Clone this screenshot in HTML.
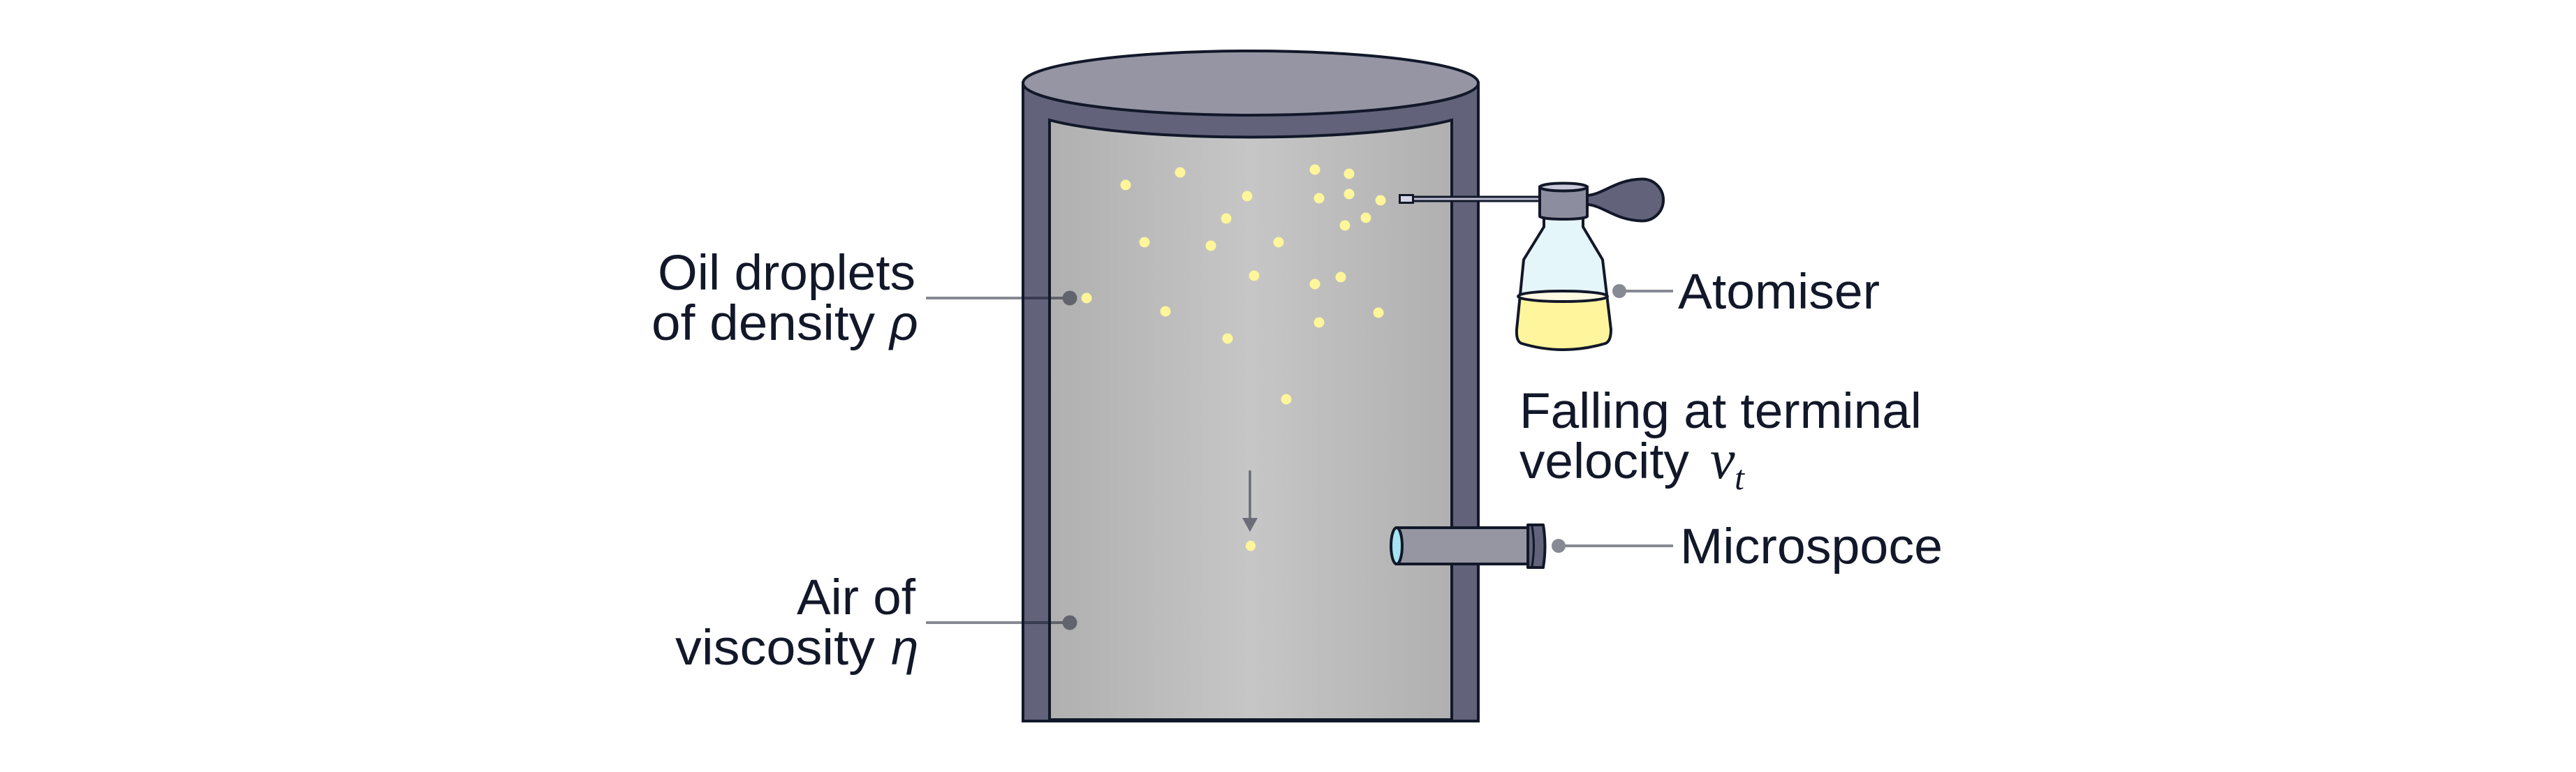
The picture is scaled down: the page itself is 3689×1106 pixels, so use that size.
<!DOCTYPE html>
<html><head><meta charset="utf-8">
<style>
html,body{margin:0;padding:0;background:#fff;}
svg{display:block;}
.t{font-family:"Liberation Sans",sans-serif;fill:#121829;font-size:71px;}
.it{font-family:"Liberation Sans",sans-serif;font-style:italic;fill:#121829;font-size:71px;}
.m{font-family:"Liberation Serif",serif;font-style:italic;fill:#121829;}
</style></head><body>
<svg width="3689" height="1106" viewBox="0 0 3689 1106" xmlns="http://www.w3.org/2000/svg">
<defs>
<linearGradient id="g" x1="1503" y1="0" x2="2079" y2="0" gradientUnits="userSpaceOnUse">
<stop offset="0" stop-color="#b0b0b0"/>
<stop offset="0.5" stop-color="#c6c6c6"/>
<stop offset="1" stop-color="#b0b0b0"/>
</linearGradient>
<clipPath id="liq"><rect x="2100" y="424" width="300" height="120"/></clipPath>
</defs>
<rect width="3689" height="1106" fill="#fff"/>

<!-- cylinder -->
<path d="M1465,119 V1033 H2117 V119 Z" fill="#62627a" stroke="#121829" stroke-width="4"/>
<path d="M1503,172 A326,46 0 0 0 2079,172 V1031 H1503 Z" fill="url(#g)" stroke="#121829" stroke-width="4"/>
<ellipse cx="1791" cy="119" rx="326" ry="46" fill="#9595a3" stroke="#121829" stroke-width="4"/>

<!-- droplets -->
<g fill="#fff59a">
<circle cx="1612" cy="265" r="7.5"/>
<circle cx="1690" cy="247" r="7.5"/>
<circle cx="1786" cy="281" r="7.5"/>
<circle cx="1756" cy="313" r="7.5"/>
<circle cx="1639" cy="347" r="7.5"/>
<circle cx="1734" cy="352" r="7.5"/>
<circle cx="1831" cy="347" r="7.5"/>
<circle cx="1883" cy="243" r="7.5"/>
<circle cx="1932" cy="249" r="7.5"/>
<circle cx="1889" cy="284" r="7.5"/>
<circle cx="1932" cy="278" r="7.5"/>
<circle cx="1977" cy="287" r="7.5"/>
<circle cx="1956" cy="312" r="7.5"/>
<circle cx="1926" cy="323" r="7.5"/>
<circle cx="1796" cy="395" r="7.5"/>
<circle cx="1883" cy="407" r="7.5"/>
<circle cx="1920" cy="397" r="7.5"/>
<circle cx="1556" cy="427" r="7.5"/>
<circle cx="1669" cy="446" r="7.5"/>
<circle cx="1974" cy="448" r="7.5"/>
<circle cx="1889" cy="462" r="7.5"/>
<circle cx="1758" cy="485" r="7.5"/>
<circle cx="1842" cy="572" r="7.5"/>
<ellipse cx="1791" cy="782" rx="7" ry="7.5"/>
</g>

<!-- falling arrow -->
<line x1="1790" y1="674" x2="1790" y2="746" stroke="#6b6d78" stroke-width="3.5"/>
<polygon points="1779,742 1801,742 1790,762" fill="#6b6d78"/>

<!-- nozzle rod -->
<rect x="2022" y="282" width="186" height="6" fill="#c0c0d4" stroke="#121829" stroke-width="3"/>
<rect x="2004.5" y="279.5" width="19" height="11" fill="#d5d5e5" stroke="#121829" stroke-width="3"/>

<!-- bottle -->
<path id="btl" d="M2211,312 V325 L2182,372 L2172,472 Q2171,489 2179,492 Q2238,510 2299,492 Q2307,489 2307,472 L2295,372 L2267,325 V312 Z" fill="#e5f6fb"/>
<path d="M2211,312 V325 L2182,372 L2172,472 Q2171,489 2179,492 Q2238,510 2299,492 Q2307,489 2307,472 L2295,372 L2267,325 V312 Z" fill="#fff59d" clip-path="url(#liq)"/>
<path d="M2211,312 V325 L2182,372 L2172,472 Q2171,489 2179,492 Q2238,510 2299,492 Q2307,489 2307,472 L2295,372 L2267,325 V312 Z" fill="none" stroke="#121829" stroke-width="4" stroke-linejoin="round"/>
<ellipse cx="2238" cy="424.5" rx="64" ry="7.5" fill="#fffbe3" stroke="#121829" stroke-width="4"/>

<!-- bulb -->
<path d="M2271,280 C2295,280 2312,257 2352,256.5 A30,30 0 1 1 2352,316.5 C2312,316 2295,293 2271,293 Z" fill="#62627a" stroke="#121829" stroke-width="4" stroke-linejoin="round"/>

<!-- cap -->
<path d="M2205,268 V310 A34,4 0 0 0 2273,310 V268 Z" fill="#8d8da0" stroke="#121829" stroke-width="4"/>
<ellipse cx="2239" cy="268" rx="34" ry="5.5" fill="#c8c8da" stroke="#121829" stroke-width="4"/>

<!-- microscope -->
<rect x="2000" y="756" width="192" height="52" fill="#9696a3" stroke="#121829" stroke-width="4"/>
<ellipse cx="2000" cy="782" rx="8" ry="26" fill="#a6e3f2" stroke="#121829" stroke-width="4"/>
<path d="M2188,752 H2210 Q2215,782 2210,813 H2188 Z" fill="#62627a" stroke="#121829" stroke-width="4" stroke-linejoin="round"/>
<path d="M2194,754 Q2199,782 2194,811" fill="none" stroke="#121829" stroke-width="3"/>

<!-- pointers -->
<g opacity="0.5" fill="#121829" stroke="#121829">
<line x1="1326" y1="427" x2="1532" y2="427" stroke-width="4"/>
<circle cx="1532" cy="427" r="10.5" stroke="none"/>
</g>
<g opacity="0.5" fill="#121829" stroke="#121829">
<line x1="1326" y1="892" x2="1532" y2="892" stroke-width="4"/>
<circle cx="1532" cy="892" r="10.5" stroke="none"/>
</g>
<g opacity="0.5" fill="#121829" stroke="#121829">
<line x1="2319" y1="417" x2="2396" y2="417" stroke-width="4"/>
<circle cx="2319" cy="417" r="10" stroke="none"/>
</g>
<g opacity="0.5" fill="#121829" stroke="#121829">
<line x1="2232" y1="782" x2="2396" y2="782" stroke-width="4"/>
<circle cx="2232" cy="782" r="10" stroke="none"/>
</g>

<!-- labels -->
<text class="t" x="942" y="415" textLength="369" lengthAdjust="spacingAndGlyphs">Oil droplets</text>
<text class="t" x="933" y="487" textLength="320" lengthAdjust="spacingAndGlyphs">of density</text>
<text class="it" x="1274" y="487">ρ</text>

<text class="t" x="1141" y="880" textLength="170" lengthAdjust="spacingAndGlyphs">Air of</text>
<text class="t" x="967" y="952" textLength="286" lengthAdjust="spacingAndGlyphs">viscosity</text>
<text class="it" x="1276" y="952">η</text>

<text class="t" x="2403" y="442" textLength="289" lengthAdjust="spacingAndGlyphs">Atomiser</text>

<text class="t" x="2176" y="613" textLength="576" lengthAdjust="spacingAndGlyphs">Falling at terminal</text>
<text class="t" x="2176" y="685" textLength="243" lengthAdjust="spacingAndGlyphs">velocity</text>
<text class="m" x="2449" y="685" font-size="80">v</text>
<text class="m" x="2484" y="701" font-size="50">t</text>

<text class="t" x="2406" y="807" textLength="376" lengthAdjust="spacingAndGlyphs">Microspoce</text>
</svg>
</body></html>
